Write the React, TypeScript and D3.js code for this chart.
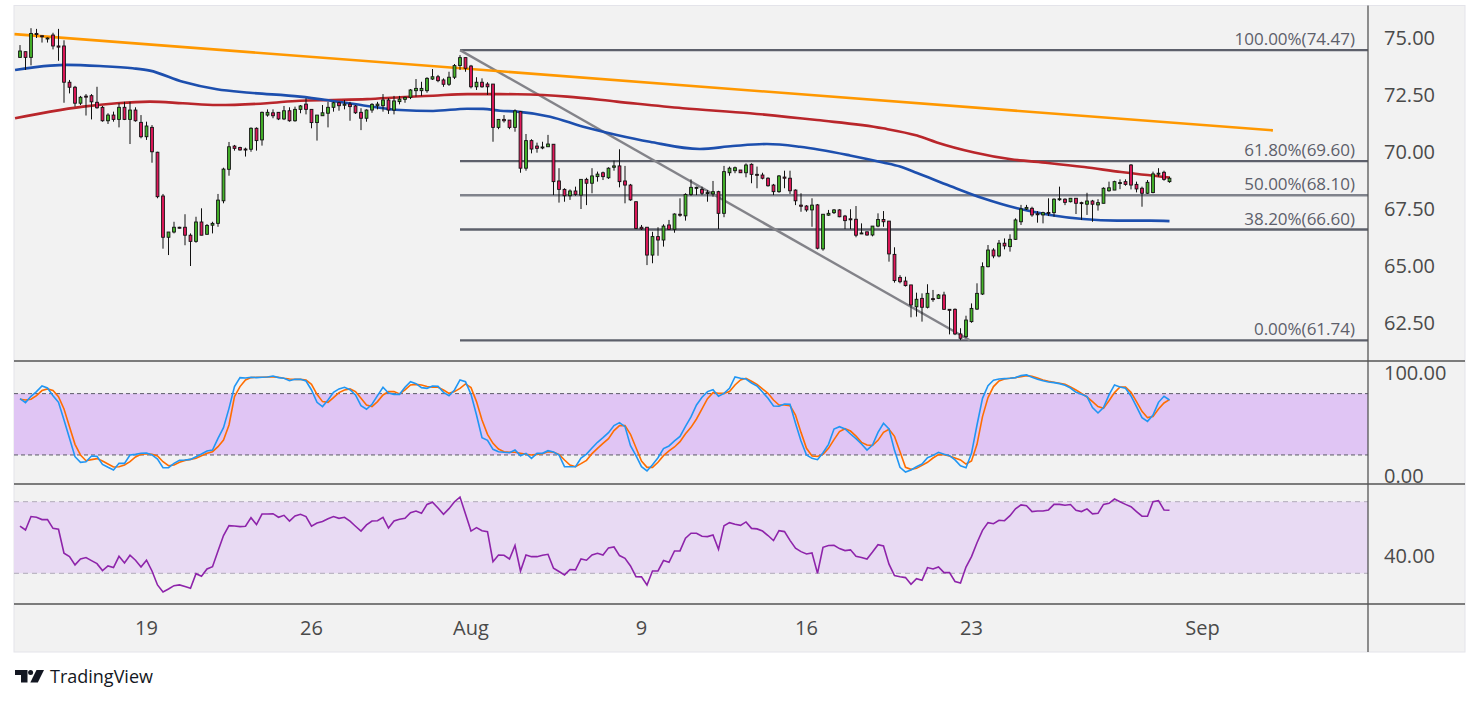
import React from 'react';
import * as d3 from 'd3';

// ---------- DATA ----------
const openP = [74.15,74.4,74.15,75.2,75.1,75.0,75.13,74.65,74.65,73.06,72.84,72.14,72.45,72.47,72.18,71.96,71.37,71.62,71.43,71.96,71.43,71.84,71.3,70.67,71.08,69.99,68.07,66.26,66.49,66.7,66.7,66.35,66.08,66.93,66.39,66.79,66.87,67.86,69.24,70.26,70.2,70.13,70.12,71.04,70.53,71.62,71.72,71.74,71.45,71.81,71.37,71.87,72.1,71.87,71.29,71.59,71.7,71.96,72.16,72.05,72.1,72.02,71.74,71.48,71.84,72.03,72.03,72.28,71.84,72.21,72.31,72.4,72.69,72.69,72.69,73.2,73.3,73.16,72.97,73.28,73.79,74.14,73.77,72.86,73.06,72.98,72.98,71.08,71.43,71.4,71.08,71.77,69.29,70.5,70.26,70.2,70.23,70.34,68.73,68.36,68.08,68.29,68.11,68.8,68.63,68.92,69.09,68.87,69.33,69.39,68.73,68.55,67.82,66.7,66.7,65.48,66.29,66.14,66.8,66.61,67.27,67.2,68.14,68.45,68.36,68.22,68.16,68.26,67.31,69.09,69.18,69.21,69.09,69.46,69.02,68.99,68.85,68.55,68.26,68.9,68.85,68.33,67.67,67.63,67.46,67.68,65.75,67.23,67.34,67.46,67.19,67.07,67.05,66.45,66.5,66.36,66.75,67.04,66.97,65.51,64.5,64.34,64.17,63.21,63.58,63.19,63.57,63.58,63.73,63.1,63.1,62.02,61.9,62.56,63.11,63.77,64.97,65.7,65.44,66.0,65.85,66.17,66.94,67.5,67.53,67.29,67.24,67.35,67.34,67.94,67.93,67.82,67.97,67.78,67.71,67.85,67.68,67.75,68.3,68.33,68.65,68.7,69.43,68.58,68.41,68.19,68.22,69.05,69.11,68.7];
const highP = [74.69,74.4,75.43,75.4,75.1,75.02,75.23,75.4,74.9,73.16,72.9,72.46,72.54,72.54,72.86,72.02,71.7,71.77,72.14,72.2,72.2,71.96,71.62,71.33,71.18,70.01,68.16,66.49,66.94,66.72,67.27,66.43,67.16,67.53,66.84,66.94,68.16,69.31,70.44,70.31,70.23,70.19,71.08,71.08,71.77,71.87,71.87,71.74,72.02,71.96,71.99,72.06,72.36,71.87,71.62,72.06,72.2,72.2,72.2,72.28,72.2,72.06,71.92,71.87,72.14,72.2,72.54,72.36,72.46,72.46,72.43,72.76,73.2,73.08,73.28,73.64,73.38,73.23,73.52,73.86,74.25,74.14,73.82,73.28,73.23,73.06,72.98,71.43,71.62,71.4,71.87,71.8,70.79,70.56,70.41,70.45,70.75,70.34,69.29,68.41,68.36,68.48,68.8,68.87,69.29,69.14,69.14,69.33,69.62,70.12,69.39,68.6,67.82,66.8,66.7,66.5,66.7,66.83,67.02,67.31,67.97,68.19,68.8,68.48,68.48,68.33,68.73,68.3,69.39,69.36,69.36,69.21,69.5,69.5,69.36,69.09,68.89,68.6,68.99,69.18,69.18,68.36,68.19,67.67,67.97,67.72,67.27,67.46,67.5,67.49,67.24,67.49,67.63,66.87,66.5,66.75,67.31,67.41,66.97,65.82,64.6,64.53,64.17,63.83,63.8,64.2,63.95,63.77,63.87,63.1,63.14,62.27,62.82,63.36,64.24,65.16,65.92,65.78,66.14,66.21,66.39,67.09,67.68,67.68,67.6,67.41,67.38,67.97,67.97,68.48,67.97,67.97,67.97,67.82,68.21,67.9,67.93,68.45,68.7,68.74,68.8,68.8,69.47,68.7,68.48,68.77,69.14,69.29,69.18,68.92];
const lowP = [74.14,73.6,73.8,75.0,74.8,74.8,74.5,74.0,72.16,72.57,71.99,72.06,71.6,71.43,71.9,71.33,71.23,71.33,71.08,71.4,70.35,71.33,70.6,70.53,69.53,67.97,65.76,65.48,66.43,66.65,65.91,65.0,66.02,66.35,66.39,66.43,66.72,67.75,68.96,70.06,70.06,69.8,70.01,70.06,70.28,71.55,71.48,71.4,71.4,71.33,71.33,71.7,71.65,71.04,70.5,71.59,71.08,71.77,71.81,71.87,71.37,71.67,70.96,71.33,71.72,71.87,71.77,71.67,71.65,72.09,72.16,72.32,72.43,72.46,72.6,73.16,73.06,72.86,72.9,73.2,73.6,73.52,72.79,72.72,72.82,72.5,70.45,71.0,71.29,71.0,70.89,69.09,69.18,69.94,69.97,70.12,70.23,68.11,67.78,67.82,67.9,68.08,67.5,67.67,68.19,68.7,68.77,68.82,69.18,68.45,67.75,67.86,66.62,66.58,65.04,65.12,65.45,65.85,66.58,66.46,67.16,66.99,68.08,68.11,68.11,67.82,68.04,66.62,67.14,68.96,69.07,69.09,68.89,68.63,68.41,68.8,68.48,68.11,68.21,68.41,68.16,67.67,67.38,67.38,66.72,65.73,65.67,67.2,67.28,67.14,66.62,66.62,66.26,66.4,66.33,66.3,66.7,66.72,65.19,64.27,64.24,64.1,62.75,62.78,62.56,63.14,63.43,63.55,63.07,62.0,61.97,61.75,61.85,62.51,63.07,63.73,64.94,65.34,65.38,65.73,65.63,66.14,66.8,67.46,67.16,66.9,66.87,67.19,67.16,67.86,67.67,67.79,67.28,67.02,67.24,66.94,67.43,67.75,68.26,68.33,68.37,68.52,68.36,68.23,67.6,68.16,68.19,68.92,68.74,68.65];
const closeP = [74.43,74.15,75.2,75.15,75.08,75.0,74.65,74.6,73.06,72.84,72.14,72.4,72.43,72.2,71.94,71.37,71.62,71.43,71.96,71.43,71.84,71.37,70.67,71.14,70.01,68.04,66.26,66.49,66.7,66.68,66.35,66.08,66.93,66.35,66.78,66.87,67.89,69.25,70.23,70.16,70.09,70.12,71.04,70.5,71.74,71.74,71.59,71.45,71.81,71.37,71.87,72.02,71.87,71.29,71.62,71.72,71.96,72.16,72.03,72.1,71.99,71.72,71.48,71.84,72.09,72.1,72.28,71.84,72.24,72.32,72.4,72.72,72.79,72.79,73.23,73.3,73.13,72.97,73.28,73.79,74.14,73.67,72.86,73.06,72.86,72.86,71.08,71.43,71.37,71.08,71.8,69.29,70.5,70.13,70.16,70.22,70.35,68.7,68.36,68.08,68.29,68.14,68.8,68.63,68.95,69.03,68.92,69.29,69.39,68.7,68.55,67.9,66.65,66.63,65.48,66.29,66.14,66.75,66.61,67.28,67.24,68.14,68.45,68.45,68.19,68.22,68.26,67.31,69.14,69.29,69.31,69.09,69.43,69.02,69.0,68.85,68.52,68.26,68.95,68.85,68.3,67.86,67.62,67.46,67.67,65.78,67.27,67.31,67.46,67.16,66.99,67.04,66.35,66.45,66.36,66.75,67.04,66.94,65.53,64.36,64.31,64.14,63.29,63.54,63.19,63.8,63.55,63.73,63.1,63.08,62.02,61.83,62.63,63.14,63.8,64.97,65.7,65.44,66.0,65.88,66.17,67.02,67.5,67.57,67.24,67.26,67.34,67.34,67.93,67.95,67.79,67.97,67.75,67.77,67.85,67.71,67.78,68.41,68.43,68.7,68.66,68.58,68.55,68.38,68.19,68.67,69.04,69.07,68.8,68.85];

const stochK = [75.1,71.2,77.4,82,87.5,85.5,78,71.5,54.2,36.3,18.3,12.8,13.4,19,18.6,10.8,7.9,5.3,11.8,11.8,20,20.6,21.6,21.9,20,16,7.5,7.5,11.8,14.7,15.1,15.7,18.3,20.9,23.9,24.8,36.3,46.7,65.6,86.9,95.7,95.3,96,95.7,96,96.3,97.3,95.7,95,92.7,94,94,92.4,83.6,71.5,67.3,73.8,81.3,84.6,86.2,83.9,78.7,68.3,64.7,69.6,78,86.2,80.6,79.3,79.3,86.2,91.7,89.8,85.9,85.2,87.5,87.2,81.3,78,83.6,93.4,91.7,79.3,59.1,36.9,34.3,25.5,23.2,22.6,22.2,24.8,19.3,21.6,16.7,21.6,21.6,24.2,22.9,20,8.5,8.5,8.5,17,20.9,26.8,32.4,36.9,41.8,48.7,51.6,47.7,29.1,19.3,8.5,4.3,10.5,17.3,26.2,28.8,33.7,38.2,48,57.2,68.9,76.4,82,83.9,77.4,80.3,85.2,96.3,95,94.3,90.4,87.5,81.6,75.4,67.9,67.6,69.9,69.6,51,33.7,20,16.7,15.4,22.2,30.4,45.4,47.7,45.4,40.5,36,30.7,24.8,29.7,42.1,51,45.4,24.5,7.9,3.3,5.3,8.5,11.1,17.3,19.6,22.6,20.6,19.3,15.1,9.5,7.5,21.6,49.3,75.4,87.8,93.1,94.3,94.7,95,95.7,97.6,98.3,96,94,92.7,91.4,90.8,89.8,88.2,85.5,81.3,79.3,77.1,66.3,61.1,66.3,78.7,88.5,86.5,85.2,77.7,67.3,56.5,52.9,59.1,71.5,77.4,73.8];
const stochD = [74.5,73.8,74.5,78,83,84.6,83,77.1,65,47.7,30.4,20,14.4,15.4,16.4,14.1,11.2,8.2,8.5,10.2,13.4,18,20.6,21.2,20.6,19,13.4,9.5,10.2,12.8,14.7,15.7,16.7,19.3,21.6,23.2,28.1,34.6,49.3,77.1,86.9,93.4,95.7,96,96,96.3,96.3,96,95,94.3,94,94,93.4,89.1,79.3,72.2,71.5,76.1,81,83.6,84.6,82,75.4,68.9,67.3,72.2,78.7,82,82,79.7,83.6,88.5,89.1,88.5,86.9,86.2,86.2,83.6,80.3,82,85.2,89.5,85.9,72.2,54.2,40.2,31.4,25.8,23.2,22.6,22.6,21.6,20.6,20,20.6,21.2,23.2,22.6,20.6,15.1,10.2,8.5,11.5,14.7,21.3,26.5,31.4,36,43.8,48.7,48.7,40.2,27.1,14.1,7.9,7.9,12.8,19.3,23.9,27.8,33,40.8,47,55.2,65,75.1,81,80.3,80.3,82,88.5,93.4,95,92.1,89.1,84.6,80.3,73.8,68.9,68.9,68.3,59.1,42.1,26.5,19,18.6,20.6,26.5,35,42.8,45.7,43.4,38.5,32.3,29.7,29.4,34.3,42.1,45.1,38.2,23.2,7.9,5.9,6.9,9.8,12.8,17,20.3,20.3,19,17,15.1,11.1,14.1,30.4,57.5,76.1,86.9,92.4,94.3,95,95.7,96.6,97.6,97,95.3,93.4,92.1,91.1,90.1,89.1,86.5,83.6,80.3,76.7,72.2,67.3,65.6,73.1,81,86.5,86.5,81.3,72.2,62.7,56.5,57.5,65,70.9,74.1];
const rsi = [56.4,54.2,61.7,61.3,60,60,55.1,54.6,41.2,39.3,34.7,38,38.8,37.1,35.4,31.5,34.1,33.2,39.5,35.8,40.1,37.3,33.5,37.3,31.3,23.5,19.6,21.2,23.1,23.5,22.6,21.6,29.8,28.3,32.4,33.7,42.5,51.1,56.6,56.4,56.1,56.3,61.1,57.2,63.1,63.1,63.3,61.3,62.4,59.2,62,63,61.7,56.3,58.1,58.9,60.5,61.7,60.7,61.3,59.1,56.3,53.6,57,59.2,59.4,61.3,55.3,59.2,60.2,60.7,63.9,64.8,63.5,68.5,69.7,66.5,63,66.1,70,72.6,63.1,53.6,55.5,53.8,53.3,36.5,40.2,40.1,38,45.5,31.3,40.2,39.3,39.3,40.1,40.6,32.8,31,29.1,32.1,31.9,38,37.3,40.2,41.2,40.2,44.2,44.7,39.9,38.4,34.1,28.1,28,23.5,31.3,31.3,37.1,36.1,42.5,42.5,49.6,52.4,52.4,50.7,50.5,51.4,43.4,56.6,58.3,57.4,56.8,58.7,55.1,54.8,53.6,51.1,48.3,53.8,53.3,48.4,44,42.1,40.8,41.4,30,44.5,45.5,45.6,43.8,42.7,43.1,39.5,38.8,38,41.9,46,45.3,35.1,28.7,28.1,27.6,23.9,27,26.1,33.2,32.4,33.5,30.4,30.4,25.4,24.6,33.5,39.3,47.1,54,58.3,57.7,59.6,59.4,62.2,66,68.2,67.8,64.5,64.8,64.8,65.4,68.5,68.5,68,68.4,65.2,64.5,66,63.2,63.5,68.5,69.1,71.5,70,68.5,67.2,64.5,61.9,61.9,70,70.6,65.4,65.2];

const maBlueIdx = [-0.9,5.5,8.5,14.5,20.5,23.6,29.6,35.8,41.8,50.9,56.9,63.1,69.1,75.1,81.3,84.2,87.3,90.4,96.4,102.4,108.5,114.5,123.6,129.6,135.8,141.8,150.9,156.9,160,163.1,169.1,175.1,181.3,187.3,193.3,199.5,205.5,209];
const maBlue = [73.6,73.79,73.82,73.77,73.67,73.57,73.08,72.75,72.6,72.43,72.24,72.02,71.84,71.8,71.9,71.89,71.81,71.77,71.55,71.11,70.75,70.45,70.13,70.26,70.35,70.23,69.85,69.54,69.36,69.08,68.51,67.97,67.53,67.24,67.06,66.99,66.99,66.97];
const maRedIdx = [-0.9,5.5,11.5,17.6,23.6,29.6,35.8,44.9,50.9,56.9,63.1,69.1,75.1,81.3,87.3,90.4,99.5,108.5,120.5,132.7,144.9,156.9,163.1,166.7,173.5,180.2,186.9,193.5,200.2,209];
const maRed = [71.48,71.77,71.99,72.14,72.21,72.14,72.06,72.14,72.25,72.28,72.32,72.4,72.47,72.54,72.54,72.53,72.43,72.21,71.92,71.7,71.4,71.04,70.72,70.42,69.98,69.68,69.52,69.34,69.12,68.88];

const orangeIdx = [-1, 227.8];
const orangeVal = [75.17, 70.95];
const grayIdx = [80, 172.7];
const grayVal = [74.47, 61.74];

const fibStartIdx = 80;
const fibLevels = [74.47, 69.6, 68.1, 66.6, 61.74];
const fibLabels = ['100.00%(74.47)', '61.80%(69.60)', '50.00%(68.10)', '38.20%(66.60)', '0.00%(61.74)'];
const fibColors = ['#5d606b', '#5d606b', '#80838c', '#5d606b', '#5d606b'];

const priceTicks = [62.5, 65, 67.5, 70, 72.5, 75];
const stochTicks = [100, 0];
const rsiTicks = [40];
const timeLabels = ['19', '26', 'Aug', '9', '16', '23', 'Sep'];
const timeIdx = [23, 53, 82, 113, 143, 173, 215];

// ---------- LAYOUT ----------
const W = 1479, H = 705;
const L = 14, R = 1465, T = 5.5, B = 652;
const AX = 1368;
const MAIN_B = 361, STO_B = 484, RSI_B = 604;
const FONT = '"Open Sans", "Noto Sans", sans-serif';

export default function App() {
  const x = d3.scaleLinear().domain([0, 209]).range([20, 1169.5]);
  const y = d3.scaleLinear().domain([62.5, 75]).range([323, 38]);
  const ys = d3.scaleLinear().domain([0, 100]).range([475.4, 373.2]);
  const yr = d3.scaleLinear().domain([30, 70]).range([573.3, 501.7]);

  const idx = d3.range(openP.length);
  const bodyW = 2.8;

  const lineIdx = (ix: number[], vals: number[], ysc: any, curve: any) =>
    d3.line<number>().x((_, k) => x(ix[k])).y((v) => ysc(v)).curve(curve)(vals) || '';
  const lineSeries = (vals: number[], ysc: any) =>
    d3.line<number>().x((_, k) => x(k)).y((v) => ysc(v))(vals) || '';

  const blueD = lineIdx(maBlueIdx, maBlue, y, d3.curveMonotoneX);
  const redD = lineIdx(maRedIdx, maRed, y, d3.curveMonotoneX);
  const orangeD = lineIdx(orangeIdx, orangeVal, y, d3.curveLinear);
  const grayD = lineIdx(grayIdx, grayVal, y, d3.curveLinear);

  return (
    <div style={{ position: 'absolute', left: 0, top: 0 }}>
      <svg width={W} height={H} style={{ display: 'block', fontFamily: FONT }}>
        <defs>
          <clipPath id="cMain"><rect x={L} y={T} width={AX - L} height={MAIN_B - T} /></clipPath>
          <clipPath id="cSto"><rect x={L} y={MAIN_B} width={AX - L} height={STO_B - MAIN_B} /></clipPath>
          <clipPath id="cRsi"><rect x={L} y={STO_B} width={AX - L} height={RSI_B - STO_B} /></clipPath>
        </defs>
        <rect x={0} y={0} width={W} height={H} fill="#ffffff" />
        <rect x={L} y={T} width={R - L} height={B - T} fill="#f2f2f2" stroke="#e4e4ea" strokeWidth={1} />

        {/* Main pane */}
        <g clipPath="url(#cMain)">
          {fibLevels.map((lv, k) => (
            <line key={'f' + k} x1={x(fibStartIdx)} x2={AX} y1={y(lv)} y2={y(lv)} stroke={fibColors[k]} strokeWidth={2.4} />
          ))}
          <path d={grayD} fill="none" stroke="#838389" strokeWidth={2.4} />
          <path d={orangeD} fill="none" stroke="#ff9800" strokeWidth={2.6} />
          <path d={redD} fill="none" stroke="#b9262b" strokeWidth={2.6} />
          <path d={blueD} fill="none" stroke="#1d4fae" strokeWidth={2.6} />
          {idx.map((i) => {
            const up = closeP[i] >= openP[i];
            const top = y(Math.max(openP[i], closeP[i]));
            const bot = y(Math.min(openP[i], closeP[i]));
            return (
              <g key={'c' + i}>
                <line x1={x(i)} x2={x(i)} y1={y(highP[i])} y2={y(lowP[i])} stroke="#111" strokeWidth={1} />
                <rect x={x(i) - bodyW / 2} y={top} width={bodyW} height={Math.max(bot - top, 1)}
                  fill={up ? '#45b52a' : '#e2185b'} stroke="#111" strokeWidth={0.9} />
              </g>
            );
          })}
          {fibLevels.map((lv, k) => (
            <text key={'fl' + k} x={1355} y={y(lv) - 5} textAnchor="end" fontSize={17} fill="#5d606b">{fibLabels[k]}</text>
          ))}
        </g>

        {/* Stochastic pane */}
        <g clipPath="url(#cSto)">
          <rect x={L} y={ys(80)} width={AX - L} height={ys(20) - ys(80)} fill="#e0c5f4" />
          <line x1={L} x2={AX} y1={ys(80)} y2={ys(80)} stroke="#5a5a66" strokeWidth={1} strokeDasharray="4 3" />
          <line x1={L} x2={AX} y1={ys(20)} y2={ys(20)} stroke="#5a5a66" strokeWidth={1} strokeDasharray="4 3" />
          <path d={lineSeries(stochD, ys)} fill="none" stroke="#ff6d00" strokeWidth={1.6} />
          <path d={lineSeries(stochK, ys)} fill="none" stroke="#2196f3" strokeWidth={1.6} />
        </g>

        {/* RSI pane */}
        <g clipPath="url(#cRsi)">
          <rect x={L} y={yr(70)} width={AX - L} height={yr(30) - yr(70)} fill="#e8daf3" />
          <line x1={L} x2={AX} y1={yr(70)} y2={yr(70)} stroke="#b0aab8" strokeWidth={1} strokeDasharray="5 4" />
          <line x1={L} x2={AX} y1={yr(30)} y2={yr(30)} stroke="#b0aab8" strokeWidth={1} strokeDasharray="5 4" />
          <path d={lineSeries(rsi, yr)} fill="none" stroke="#8e24aa" strokeWidth={1.6} />
        </g>

        {/* separators */}
        <line x1={L} x2={R} y1={MAIN_B} y2={MAIN_B} stroke="#555" strokeWidth={1.3} />
        <line x1={L} x2={R} y1={STO_B} y2={STO_B} stroke="#555" strokeWidth={1.3} />
        <line x1={L} x2={R} y1={RSI_B} y2={RSI_B} stroke="#555" strokeWidth={1.3} />
        <line x1={AX} x2={AX} y1={T} y2={B} stroke="#555" strokeWidth={1.3} />

        {/* price axis */}
        {priceTicks.map((t) => (
          <text key={'p' + t} x={1384} y={y(t)} dy="0.36em" fontSize={20} fill="#4a4a4a">{t.toFixed(2)}</text>
        ))}
        {stochTicks.map((t) => (
          <text key={'s' + t} x={1384} y={ys(t)} dy="0.36em" fontSize={20} fill="#4a4a4a">{t.toFixed(2)}</text>
        ))}
        {rsiTicks.map((t) => (
          <text key={'r' + t} x={1384} y={yr(t)} dy="0.36em" fontSize={20} fill="#4a4a4a">{t.toFixed(2)}</text>
        ))}

        {/* time axis */}
        {timeLabels.map((lb, k) => (
          <text key={'t' + k} x={x(timeIdx[k])} y={635} textAnchor="middle" fontSize={20} fill="#4a4a4a">{lb}</text>
        ))}

        {/* TradingView logo */}
        <g fill="#131722">
          <path d="M15,670 H27.5 V682.5 H21 V675 H15 Z" />
          <circle cx={30.6} cy={672.6} r={2.5} />
          <path d="M36.5,670 H44 L37.8,682.5 H30.3 Z" />
          <text x={50} y={682.8} fontSize={18} fontWeight={500} fill="#131722">TradingView</text>
        </g>
      </svg>
    </div>
  );
}
